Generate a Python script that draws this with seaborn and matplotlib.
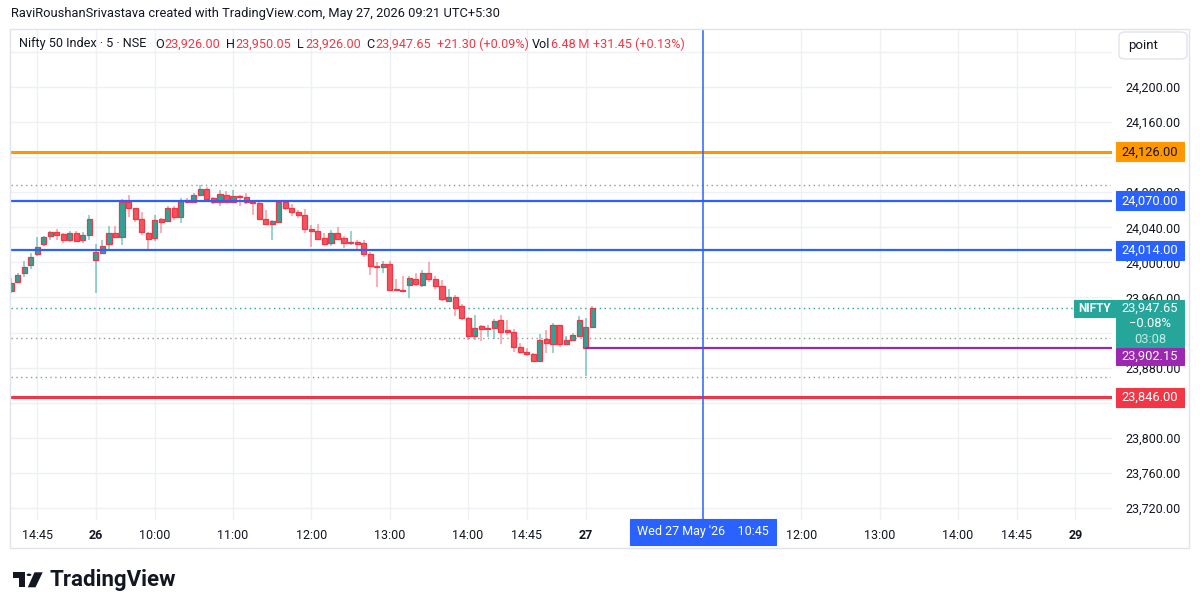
import numpy as np
import pandas as pd
import seaborn as sns
import matplotlib
matplotlib.use("Agg")
import matplotlib.pyplot as plt
from matplotlib.patches import Rectangle, Polygon, Circle, FancyBboxPatch

# ---------------- data (5-minute Nifty 50 candles) ----------------
opens = [23967, 23978, 23988, 23997, 24010, 24021, 24030, 24035, 24032, 24026,
         24034, 24025, 24031, 24003, 24011, 24021, 24034, 24029, 24069, 24062,
         24050, 24034, 24028, 24049, 24047, 24062, 24052, 24071, 24069, 24077,
         24084, 24073, 24069, 24077, 24069, 24076, 24074, 24069, 24068, 24050,
         24044, 24046, 24069, 24062, 24057, 24054, 24038, 24036, 24028, 24022,
         24034, 24028, 24022, 24023, 24022, 24010, 23996, 23995, 23998, 23970,
         23969, 23974, 23981, 23974, 23988, 23981, 23973, 23956, 23961, 23950,
         23937, 23916, 23927, 23924, 23925, 23934, 23923, 23921, 23904, 23898,
         23895, 23888, 23913, 23907, 23928, 23907, 23911, 23916, 23902.15, 23926]
highs = [23982, 23988, 24002, 24011, 24029, 24030, 24036, 24038, 24034, 24036,
         24036, 24035, 24054, 24021, 24026, 24041, 24041, 24072, 24077, 24062,
         24057, 24035, 24054, 24051, 24064, 24064, 24073, 24073, 24079, 24088,
         24086, 24075, 24082, 24081, 24082, 24077, 24079, 24070, 24069, 24060,
         24048, 24070, 24071, 24067, 24060, 24061, 24043, 24044, 24033, 24037,
         24040, 24030, 24036, 24026, 24025, 24012, 24000, 24002, 24002, 23981,
         23984, 23985, 23988, 23991, 24000, 23984, 23980, 23970, 23963, 23953,
         23938, 23940, 23929, 23929, 23935, 23940, 23934, 23924, 23908, 23902,
         23897, 23918, 23923, 23931, 23929, 23916, 23920, 23939, 23937, 23950.05]
lows = [23965, 23976, 23983, 23992, 24007, 24019, 24026, 24025, 24022, 24023,
        24023, 24022, 24025, 23965, 24010, 24014, 24029, 24020, 24052, 24046,
        24031, 24014, 24024, 24033, 24046, 24048, 24045, 24068, 24068, 24076,
        24071, 24067, 24064, 24068, 24068, 24064, 24067, 24054, 24048, 24043,
        24026, 24045, 24060, 24053, 24051, 24033, 24018, 24026, 24020, 24019,
        24026, 24016, 24020, 24013, 24006, 23986, 23972, 23988, 23967, 23967,
        23966, 23959, 23973, 23972, 23978, 23970, 23956, 23955, 23939, 23934,
        23912, 23912, 23910, 23915, 23913, 23907, 23917, 23898, 23896, 23893,
        23886, 23887, 23897, 23897, 23904, 23906, 23910, 23915, 23870, 23926]
closes = [23977, 23986, 23995, 24006, 24018, 24029, 24035, 24031, 24025, 24034,
          24024, 24031, 24049, 24012, 24019, 24034, 24029, 24069, 24062, 24050,
          24035, 24027, 24048, 24046, 24062, 24052, 24070, 24069, 24077, 24084,
          24072, 24069, 24078, 24069, 24076, 24075, 24069, 24068, 24049, 24044,
          24047, 24069, 24062, 24057, 24054, 24038, 24036, 24027, 24021, 24034,
          24027, 24022, 24023, 24021, 24010, 23996, 23995, 23998, 23969, 23968,
          23967, 23982, 23975, 23988, 23981, 23973, 23958, 23961, 23948, 23936,
          23916, 23925, 23924, 23925, 23933, 23921, 23921, 23904, 23898, 23896,
          23888, 23912, 23908, 23928, 23907, 23912, 23917, 23934, 23926, 23947.65]

xtick_pos = [4, 13, 22, 34, 46, 58, 70, 79, 88, 121, 133, 145, 154, 163]
xtick_labels = ["14:45", "26", "10:00", "11:00", "12:00", "13:00", "14:00", "14:45",
                "27", "12:00", "13:00", "14:00", "14:45", "29"]
day_labels = {"26", "27", "29"}
yticks = list(range(23720, 24241, 40))
hidden_yticks = {24240, 24120, 23920, 23840}   # covered by labels in the reference

orange_level = 24126.00
blue_levels = [24070.00, 24014.00]
purple_level = 23902.15
red_level = 23846.00
dotted_gray = [24088.3, 23913.8, 23869.7]
last_price = 23947.65
crosshair_idx = 106
day27_start = 88

# ---------------- style ----------------
sns.set_theme(style="white")
plt.rcParams["font.family"] = ["Roboto", "DejaVu Sans"]

TXT = "#131722"
RED = "#f23645"
TEAL = "#26a69a"
BLUE = "#2962ff"
ORANGE = "#ff9800"
PURPLE = "#9c27b0"

W, H = 1200, 611
fig = plt.figure(figsize=(12, 6.11), dpi=100)
fig.patch.set_facecolor("white")


def fx(x):
    return x / W


def fy(y):
    return 1 - y / H


ax = fig.add_axes([fx(11), fy(520), (1112 - 11) / W, (520 - 29) / H])
ax.set_facecolor("white")
ax.set_xlim(0, 168.6)
ax.set_ylim(23706.2, 24266.1)

df = pd.DataFrame({"open": opens, "high": highs, "low": lows, "close": closes})
df["i"] = np.arange(len(df))
df["up"] = df["close"] >= df["open"]
df["bottom"] = df[["open", "close"]].min(axis=1)
df["height"] = np.maximum((df["close"] - df["open"]).abs(), 0.9)

up = df[df["up"]]
dn = df[~df["up"]]
ax.vlines(up["i"], up["low"], up["high"], color=TEAL, alpha=0.6, lw=1.1, zorder=3)
ax.vlines(dn["i"], dn["low"], dn["high"], color=RED, alpha=0.5, lw=1.1, zorder=3)
ax.bar(up["i"], up["height"], bottom=up["bottom"], width=0.78, color=TEAL,
       edgecolor=RED, lw=0.9, zorder=4)
ax.bar(dn["i"], dn["height"], bottom=dn["bottom"], width=0.78, color="#f0555f",
       edgecolor=RED, lw=0.9, zorder=4)

# grid
ax.grid(True, color="#eef0f3", lw=1, zorder=0)
ax.set_axisbelow(True)
for s in ax.spines.values():
    s.set_visible(False)

# levels
ax.axhline(orange_level, color=ORANGE, lw=2.2, zorder=5)
for b in blue_levels:
    ax.axhline(b, color=BLUE, lw=1.6, zorder=5)
ax.axhline(red_level, color=RED, lw=2.2, zorder=5)
ax.axhline(purple_level, xmin=day27_start / 168.6, xmax=1, color=PURPLE, lw=1.6, zorder=5)
for d in dotted_gray:
    ax.axhline(d, xmax=0.998, color="#9598a1", lw=1, ls=(0, (1, 2.5)), zorder=2)
ax.axhline(last_price, xmax=(1074 - 11) / 1101, color=TEAL, lw=1, ls=(0, (1, 2.5)), zorder=2)
ax.axvline(crosshair_idx, color=BLUE, lw=1.1, zorder=6)

# ticks
ax.set_xticks(xtick_pos)
ax.set_xticklabels(xtick_labels)
for t in ax.get_xticklabels():
    if t.get_text() in day_labels:
        t.set_fontweight("bold")
ax.yaxis.tick_right()
ax.set_yticks(yticks)
ax.set_yticklabels(["" if v in hidden_yticks else f"{v:,.2f}" for v in yticks])
ax.tick_params(axis="both", length=0, labelsize=9, labelcolor=TXT)
ax.tick_params(axis="x", pad=6.5)
ax.tick_params(axis="y", pad=9.5)


def py(price):
    _, yd = ax.transData.transform((0, price))
    return H - yd


def box(x0, x1, yc, h, fc, lines, tc="white", weight="normal", size=9.3, ec=None):
    y0 = yc - h / 2
    fig.add_artist(Rectangle((fx(x0), fy(y0 + h)), (x1 - x0) / W, h / H,
                             transform=fig.transFigure, fc=fc, ec=ec or fc, lw=0.8))
    n = len(lines)
    for k, (s, col) in enumerate(lines):
        yy = y0 + h * (k + 0.5) / n
        fig.text(fx((x0 + x1) / 2), fy(yy), s, ha="center", va="center",
                 color=col or tc, fontsize=size, fontweight=weight)


bx0, bx1 = 1116, 1184
box(bx0, bx1, py(orange_level), 19, ORANGE, [(f"{orange_level:,.2f}", TXT)])
for b in blue_levels:
    box(bx0, bx1, py(b), 19, BLUE, [(f"{b:,.2f}", None)])
box(bx0, bx1, 323.5, 47, TEAL, [(f"{last_price:,.2f}", None), ("\u22120.08%", None), ("03:08", "#c5ebe6")])
box(bx0, bx1, py(purple_level) + 8, 17, PURPLE, [(f"{purple_level:,.2f}", None)])
box(bx0, bx1, py(red_level), 19, RED, [(f"{red_level:,.2f}", None)])
box(1074, 1115, 308.5, 17, TEAL, [("NIFTY", None)], weight="bold", size=8.5)

# crosshair time label
box(630, 776, 532, 26, BLUE, [("Wed 27 May '26    10:45", None)], size=9)

# "point" button
fig.add_artist(FancyBboxPatch((fx(1119), fy(59)), 68 / W, 27 / H,
                              boxstyle="round,pad=0,rounding_size=0.006",
                              transform=fig.transFigure, fc="white", ec="#e0e3eb", lw=1))
fig.text(fx(1128), fy(45.5), "point", ha="left", va="center", fontsize=9.5, color=TXT)

# outer frame
fig.add_artist(Rectangle((fx(10), fy(548)), (1189 - 10) / W, (548 - 29) / H,
                         transform=fig.transFigure, fill=False, ec="#e0e3eb", lw=1))

# header
fig.text(fx(11), fy(14), "RaviRoushanSrivastava created with TradingView.com, May 27, 2026 09:21 UTC+5:30",
         ha="left", va="center", fontsize=9.3, color=TXT)

legend_parts = [
    (19, "Nifty 50 Index \u00b7 5 \u00b7 NSE", TXT),
    (155, "O", TXT), (164, "23,926.00", RED),
    (226, "H", TXT), (235, "23,950.05", RED),
    (297, "L", TXT), (305, "23,926.00", RED),
    (366, "C", TXT), (375, "23,947.65", RED),
    (437, "+21.30 (+0.09%)", RED),
    (532, "Vol", TXT), (551, "6.48\u2009M", RED),
    (593, "+31.45 (+0.13%)", RED),
]
for x, s, c in legend_parts:
    fig.text(fx(x), fy(44), s, ha="left", va="center", fontsize=9.1, color=c)

# TradingView logo
logo = "#131722"
fig.add_artist(Polygon([(fx(12.7), fy(572.3)), (fx(25), fy(572.3)), (fx(25), fy(587.3)),
                        (fx(19.3), fy(587.3)), (fx(19.3), fy(577.7)), (fx(12.7), fy(577.7))],
                       closed=True, transform=fig.transFigure, fc=logo, ec="none"))
fig.add_artist(Circle((fx(29), fy(574.8)), 2.4 / W, transform=fig.transFigure, fc=logo, ec="none"))
fig.add_artist(Polygon([(fx(34.5), fy(572.3)), (fx(42.7), fy(572.3)), (fx(35.5), fy(587.3)),
                        (fx(27.8), fy(587.3))],
                       closed=True, transform=fig.transFigure, fc=logo, ec="none"))
fig.text(fx(49), fy(580), "TradingView", ha="left", va="center", fontsize=16,
         fontweight="bold", color=logo)

fig.savefig("out.png", dpi=100, facecolor="white")
